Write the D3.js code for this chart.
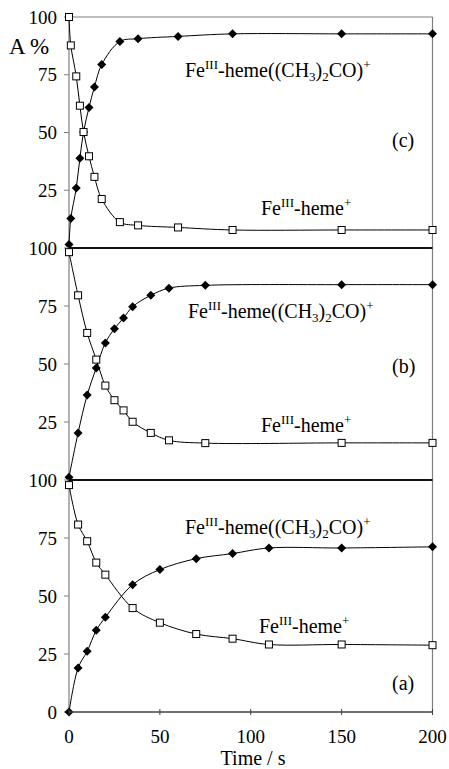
<!DOCTYPE html>
<html>
<head>
<meta charset="utf-8">
<script src="https://cdnjs.cloudflare.com/ajax/libs/d3/7.8.5/d3.min.js"></script>
<style>
  html, body { margin: 0; padding: 0; background: #fff; }
  svg { display: block; }
  svg text { font-family: 'Liberation Serif', 'DejaVu Serif', serif; fill: #000; }
</style>
</head>
<body>
<div id="chart"></div>
<script>
// ---- Data ----
const timesC = [0, 1, 4, 6, 8, 11, 14, 18, 28, 38, 60, 90, 150, 200];
const hemeC = [100, 87.7, 74.3, 61.6, 50.2, 39.7, 30.8, 21.2, 11.2, 9.8, 8.9, 7.8, 7.8, 7.8];
const acetoneC = [1.5, 12.8, 26, 38.9, 50.2, 60.8, 69.7, 79.4, 89.4, 90.6, 91.6, 92.7, 92.7, 92.7];

const timesB = [0, 5, 10, 15, 20, 25, 30, 35, 45, 55, 75, 150, 200];
const hemeB = [98.2, 79.6, 63.4, 51.9, 40.7, 34.4, 30, 25.1, 20.3, 17.1, 15.9, 16, 16];
const acetoneB = [1.2, 20.3, 36.6, 48.3, 59.1, 65.2, 69.8, 74.7, 79.6, 82.7, 83.9, 84.2, 84.2];

const timesA = [0, 5, 10, 15, 20, 35, 50, 70, 90, 110, 150, 200];
const hemeA = [97.8, 80.8, 73.6, 64.4, 59.2, 44.8, 38.5, 33.6, 31.6, 29.1, 29.1, 28.8];
const acetoneA = [0, 19, 26.2, 35.2, 40.8, 54.9, 61.4, 66.1, 68.3, 70.7, 70.7, 71.2];

const yTicksUpper = [100, 75, 50, 25];
const yTicksBottom = [100, 75, 50, 25, 0];
const xTicks = [0, 50, 100, 150, 200];
const panelLetters = ["(c)", "(b)", "(a)"];

// ---- Layout ----
const W = 449, H = 769;
const xLeft = 69, xRight = 432.5;
const panelTops = [17, 248, 480];
const panelBottoms = [248, 480, 712];
const FONT = "'Liberation Serif', 'DejaVu Serif', serif";

const svg = d3.select("#chart").append("svg").attr("width", W).attr("height", H)
  .attr("font-family", FONT);

const x = d3.scaleLinear().domain([0, 200]).range([xLeft, xRight]);

const panels = [
  { times: timesC, heme: hemeC, acetone: acetoneC, ticks: yTicksUpper, letter: panelLetters[0],
    acetLabel: [185, 77], hemeLabel: [261, 215], letterPos: [392, 147] },
  { times: timesB, heme: hemeB, acetone: acetoneB, ticks: yTicksUpper, letter: panelLetters[1],
    acetLabel: [188, 318], hemeLabel: [261, 432], letterPos: [392, 373] },
  { times: timesA, heme: hemeA, acetone: acetoneA, ticks: yTicksBottom, letter: panelLetters[2],
    acetLabel: [185, 534], hemeLabel: [259, 633], letterPos: [392, 690] }
];

const grey = "#7f7f7f";

svg.append("line").attr("x1", xLeft).attr("x2", xRight).attr("y1", panelTops[0]).attr("y2", panelTops[0])
  .attr("stroke", grey).attr("stroke-width", 1);
svg.append("line").attr("x1", xLeft).attr("x2", xLeft).attr("y1", panelTops[0]).attr("y2", panelBottoms[2])
  .attr("stroke", grey).attr("stroke-width", 1.2);
svg.append("line").attr("x1", xRight).attr("x2", xRight).attr("y1", panelTops[0]).attr("y2", panelBottoms[2])
  .attr("stroke", grey).attr("stroke-width", 1.2);

const line = d3.line().curve(d3.curveCatmullRom.alpha(0.5));

function diamond(g, cx, cy, r) {
  g.append("path")
    .attr("d", `M${cx},${cy - r}L${cx + r},${cy}L${cx},${cy + r}L${cx - r},${cy}Z`)
    .attr("fill", "#000");
}

function addLabel(parent, pos, parts) {
  const t = parent.append("text").attr("x", pos[0]).attr("y", pos[1])
    .attr("font-size", 20).attr("font-family", FONT);
  let shift = 0;
  parts.forEach(p => {
    const ts = t.append("tspan").text(p.s);
    let target = 0;
    if (p.t === "sup") { target = -8; ts.attr("font-size", 13); }
    else if (p.t === "sub") { target = 4; ts.attr("font-size", 13); }
    ts.attr("dy", target - shift);
    shift = target;
  });
}

panels.forEach((p, i) => {
  const y = d3.scaleLinear().domain([0, 100]).range([panelBottoms[i], panelTops[i]]);
  const g = svg.append("g");

  if (i < 2) {
    g.append("line").attr("x1", xLeft).attr("x2", xRight).attr("y1", y(0)).attr("y2", y(0))
      .attr("stroke", "#111").attr("stroke-width", 2);
  }

  p.ticks.forEach(v => {
    g.append("line").attr("x1", xLeft - 5).attr("x2", xLeft).attr("y1", y(v)).attr("y2", y(v))
      .attr("stroke", grey).attr("stroke-width", 1);
    g.append("text").attr("x", 57).attr("y", y(v)).attr("dy", "0.35em")
      .attr("text-anchor", "end").attr("font-size", 19).attr("font-family", FONT).text(v);
  });

  const hemePts = p.times.map((t, k) => [x(t), y(p.heme[k])]);
  const acetPts = p.times.map((t, k) => [x(t), y(p.acetone[k])]);
  g.append("path").attr("d", line(hemePts)).attr("fill", "none").attr("stroke", "#000").attr("stroke-width", 1);
  g.append("path").attr("d", line(acetPts)).attr("fill", "none").attr("stroke", "#000").attr("stroke-width", 1);

  acetPts.forEach(pt => diamond(g, pt[0], pt[1], 4.5));
  hemePts.forEach(pt => {
    g.append("rect").attr("x", pt[0] - 3.5).attr("y", pt[1] - 3.5).attr("width", 7).attr("height", 7)
      .attr("fill", "#fff").attr("stroke", "#000").attr("stroke-width", 1);
  });

  addLabel(g, p.acetLabel, [
    { s: "Fe" }, { s: "III", t: "sup" }, { s: "-heme((CH" }, { s: "3", t: "sub" },
    { s: ")" }, { s: "2", t: "sub" }, { s: "CO)" }, { s: "+", t: "sup" }
  ]);
  addLabel(g, p.hemeLabel, [
    { s: "Fe" }, { s: "III", t: "sup" }, { s: "-heme" }, { s: "+", t: "sup" }
  ]);
  g.append("text").attr("x", p.letterPos[0]).attr("y", p.letterPos[1]).attr("font-size", 20)
    .attr("font-family", FONT).text(p.letter);
});

const axisY = panelBottoms[2];
svg.append("line").attr("x1", xLeft).attr("x2", xRight).attr("y1", axisY).attr("y2", axisY)
  .attr("stroke", "#404040").attr("stroke-width", 1.5);
xTicks.forEach(t => {
  svg.append("line").attr("x1", x(t)).attr("x2", x(t)).attr("y1", axisY - 3).attr("y2", axisY + 3)
    .attr("stroke", "#404040").attr("stroke-width", 1);
  svg.append("text").attr("x", x(t)).attr("y", 743).attr("text-anchor", "middle")
    .attr("font-size", 19).attr("font-family", FONT).text(t);
});
svg.append("text").attr("x", 253).attr("y", 765).attr("text-anchor", "middle")
  .attr("font-size", 20).attr("font-family", FONT).text("Time / s");

svg.append("text").attr("x", 9).attr("y", 54).attr("font-size", 23).attr("font-family", FONT).text("A %");
</script>
</body>
</html>
